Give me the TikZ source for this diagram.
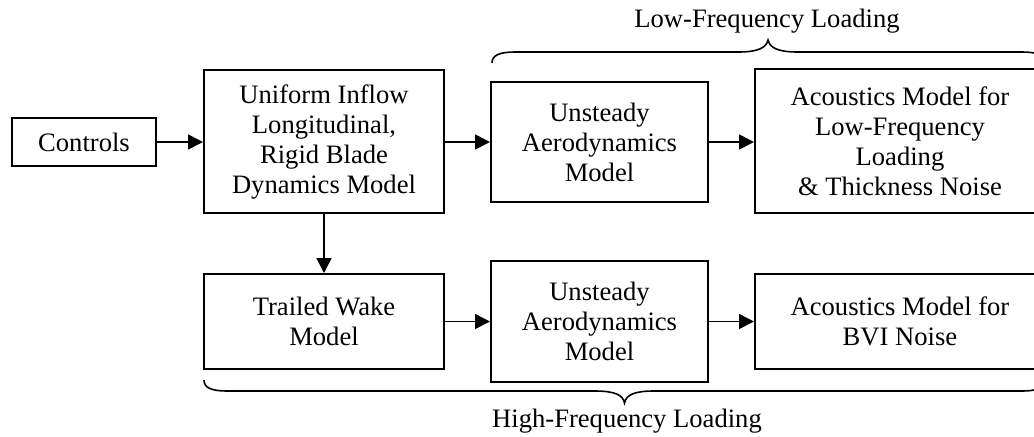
\documentclass[tikz,border=0pt]{standalone}
\usepackage{fontspec}
\setmainfont{Liberation Serif}
\usetikzlibrary{arrows.meta,calc}
\begin{document}
\begin{tikzpicture}[x=0.5pt,y=-0.5pt,
  box/.style={draw, line width=1pt, inner sep=0pt, align=center, font=\fontsize{13.3}{15}\selectfont},
  conn/.style={line width=0.8pt, -{Triangle[length=7.5pt,width=7.5pt]}},
  brace/.style={line width=0.8pt},
  lbl/.style={font=\fontsize{13.3}{15}\selectfont, anchor=base, inner sep=0pt}]
\clip (0,0) rectangle (1034,436);
\node[box, minimum width=72pt, minimum height=24pt] (ctrl) at (84,142) {Controls};
\node[box, minimum width=120pt, minimum height=71.5pt] (b1) at (324,141.5) {Uniform Inflow\\Longitudinal,\\Rigid Blade\\Dynamics Model};
\node[box, minimum width=108.5pt, minimum height=60pt] (b2) at (599.5,142) {Unsteady\\Aerodynamics\\Model};
\node[box, minimum width=145pt, minimum height=72pt] (b3) at (900,141) {Acoustics Model for\\Low-Frequency\\Loading\\\& Thickness Noise};
\node[box, minimum width=120pt, minimum height=47.5pt] (b4) at (324,321.5) {Trailed Wake\\Model};
\node[box, minimum width=108.5pt, minimum height=60.5pt] (b5) at (599.5,321.5) {Unsteady\\Aerodynamics\\Model};
\node[box, minimum width=145pt, minimum height=47.5pt] (b6) at (900,321.5) {Acoustics Model for\\BVI Noise};
\draw[conn] (ctrl.east) -- (ctrl.east -| b1.west);
\draw[conn] (b1.east |- b2.west) -- (b2.west);
\draw[conn] (b2.east) -- (b2.east -| b3.west);
\draw[conn] (b1.south) -- (b4.north);
\draw[conn] (b4.east) -- (b4.east -| b5.west);
\draw[conn] (b5.east) -- (b5.east -| b6.west);
% top brace
\draw[brace] (492,63) .. controls (492,55) and (500,52) .. (515,52) -- (738,52)
  .. controls (758,52) and (766,48) .. (768,40)
  .. controls (770,48) and (778,52) .. (798,52) -- (1022,52)
  .. controls (1037,52) and (1045,55) .. (1045,63);
% bottom brace
\draw[brace] (204,380) .. controls (204,388) and (212,391) .. (227,391) -- (595,391)
  .. controls (615,391) and (623,395) .. (624.5,403)
  .. controls (626,395) and (634,391) .. (654,391) -- (1022,391)
  .. controls (1037,391) and (1045,388) .. (1045,380);
\node[lbl] (lowlbl) at (767,27) {Low-Frequency Loading};
\node[lbl] (highlbl) at (627,427) {High-Frequency Loading};
\end{tikzpicture}
\end{document}
